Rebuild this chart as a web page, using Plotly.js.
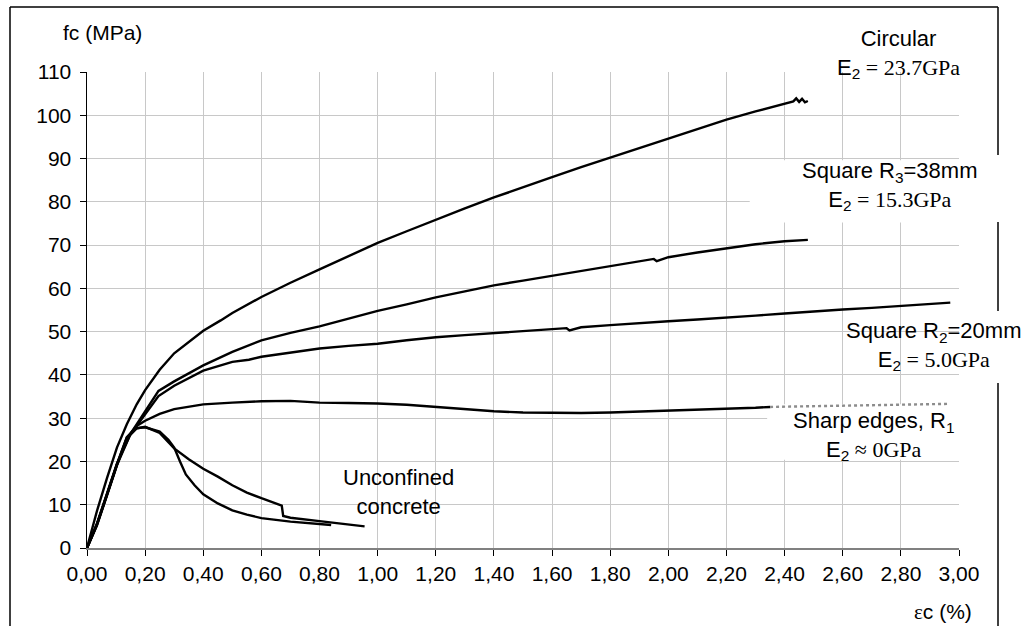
<!DOCTYPE html>
<html>
<head>
<meta charset="utf-8">
<script src="https://cdn.plot.ly/plotly-3.0.1.min.js"></script>
<style>html,body{margin:0;padding:0;background:#fff;}#chart{width:1027px;height:626px;}</style>
</head>
<body>
<div id="chart"></div>
<script>
// ---- data (strain in %, stress in MPa) ----
var circX = [0, 0.034, 0.069, 0.103, 0.137, 0.171, 0.20, 0.25, 0.30, 0.35, 0.40, 0.46, 0.50, 0.60, 0.70, 0.80, 0.90, 1.00, 1.10, 1.20, 1.30, 1.40, 1.50, 1.60, 1.70, 1.80, 1.90, 2.00, 2.10, 2.20, 2.30, 2.40, 2.43, 2.44, 2.45, 2.46, 2.47, 2.48];
var circY = [0, 8.5, 16.2, 23.2, 28.6, 33.2, 36.5, 41.2, 45.0, 47.7, 50.2, 52.6, 54.3, 58.0, 61.3, 64.4, 67.5, 70.5, 73.2, 75.9, 78.5, 81.0, 83.4, 85.7, 88.0, 90.2, 92.4, 94.5, 96.8, 99.0, 100.9, 102.6, 103.2, 103.9, 103.1, 103.8, 103.0, 103.3];

var r3X = [0, 0.034, 0.069, 0.103, 0.149, 0.20, 0.246, 0.30, 0.40, 0.50, 0.60, 0.70, 0.80, 0.90, 1.00, 1.10, 1.20, 1.30, 1.40, 1.50, 1.60, 1.70, 1.80, 1.90, 1.95, 1.96, 2.00, 2.10, 2.20, 2.30, 2.40, 2.48];
var r3Y = [0, 5.6, 12.6, 19.5, 26.3, 31.5, 36.3, 38.5, 42.2, 45.3, 48.0, 49.7, 51.2, 53.0, 54.8, 56.3, 57.9, 59.3, 60.7, 61.8, 62.9, 64.0, 65.2, 66.3, 66.8, 66.3, 67.2, 68.3, 69.3, 70.2, 70.9, 71.2];

var r2X = [0, 0.034, 0.069, 0.103, 0.149, 0.20, 0.246, 0.30, 0.40, 0.50, 0.557, 0.60, 0.70, 0.80, 0.90, 1.00, 1.10, 1.20, 1.30, 1.40, 1.50, 1.60, 1.65, 1.66, 1.70, 1.80, 1.90, 2.00, 2.10, 2.20, 2.30, 2.40, 2.50, 2.60, 2.70, 2.80, 2.90, 2.97];
var r2Y = [0, 5.3, 12.3, 19.2, 26.2, 30.8, 35.1, 37.5, 41.0, 43.0, 43.5, 44.2, 45.2, 46.1, 46.7, 47.2, 48.0, 48.7, 49.2, 49.7, 50.2, 50.7, 50.8, 50.3, 51.0, 51.5, 52.0, 52.4, 52.8, 53.2, 53.7, 54.2, 54.7, 55.1, 55.5, 55.9, 56.3, 56.7];

var sharpX = [0, 0.034, 0.069, 0.103, 0.137, 0.171, 0.20, 0.25, 0.30, 0.40, 0.50, 0.60, 0.70, 0.80, 0.90, 1.00, 1.10, 1.20, 1.30, 1.40, 1.50, 1.60, 1.70, 1.80, 1.90, 2.00, 2.10, 2.20, 2.30, 2.35];
var sharpY = [0, 5.4, 12.4, 19.3, 25.5, 28.2, 29.4, 31.0, 32.1, 33.2, 33.6, 33.9, 34.0, 33.6, 33.5, 33.4, 33.1, 32.6, 32.0, 31.6, 31.3, 31.2, 31.2, 31.3, 31.5, 31.8, 32.0, 32.2, 32.4, 32.6];
var sharpTailX = [2.35, 2.50, 2.70, 2.90, 2.96];
var sharpTailY = [32.6, 32.8, 33.0, 33.2, 33.3];

var uncAX = [0, 0.034, 0.069, 0.103, 0.137, 0.17, 0.20, 0.25, 0.30, 0.35, 0.40, 0.45, 0.50, 0.55, 0.60, 0.65, 0.67, 0.675, 0.70, 0.80, 0.90, 0.955];
var uncAY = [0, 5.2, 12.2, 19.1, 25.3, 27.6, 28.0, 26.6, 23.0, 20.5, 18.3, 16.5, 14.5, 12.8, 11.5, 10.2, 9.8, 7.4, 7.0, 6.2, 5.5, 5.0];

var uncBX = [0, 0.034, 0.069, 0.103, 0.137, 0.17, 0.20, 0.25, 0.28, 0.30, 0.32, 0.34, 0.37, 0.40, 0.45, 0.50, 0.55, 0.60, 0.70, 0.80, 0.84];
var uncBY = [0, 5.5, 12.5, 19.4, 25.6, 27.7, 27.9, 26.9, 25.0, 23.2, 20.0, 17.0, 14.5, 12.4, 10.3, 8.7, 7.7, 6.9, 6.1, 5.6, 5.3];

var xTickVals = [0, 0.2, 0.4, 0.6, 0.8, 1.0, 1.2, 1.4, 1.6, 1.8, 2.0, 2.2, 2.4, 2.6, 2.8, 3.0];
var yTickVals = [0, 10, 20, 30, 40, 50, 60, 70, 80, 90, 100, 110];

// ---- geometry helpers (pixel -> paper) ----
var L = 87, R = 959, T = 72, B = 548;
function px(x) { return (x - L) / (R - L); }
function py(y) { return (B - y) / (B - T); }

var lineStyle = {color: '#000000', width: 2.4};
function tr(x, y, st) { return {x: x, y: y, type: 'scatter', mode: 'lines', line: st || lineStyle, hoverinfo: 'skip', showlegend: false}; }

var data = [
  tr(uncAX, uncAY), tr(uncBX, uncBY),
  tr(sharpX, sharpY),
  tr(sharpTailX, sharpTailY, {color: '#8c8c8c', width: 2.4, dash: 'dot'}),
  tr(r2X, r2Y), tr(r3X, r3Y), tr(circX, circY)
];

var SANS = 'Liberation Sans, Arial, sans-serif';
function ann(x, y, text, size) {
  return {xref: 'paper', yref: 'paper', x: px(x), y: py(y), xanchor: 'center', yanchor: 'middle', align: 'center',
    text: text, showarrow: false, font: {family: SANS, size: size || 22, color: '#000'}};
}
function eLine(rest) {
  return "E<sub>2</sub><span style='font-family:Liberation Serif'> " + rest + "</span>";
}

var annotations = [
  ann(102, 32, 'fc (MPa)', 21),
  ann(943, 612, "<span style='font-family:Liberation Serif'>ε</span>c (%)", 21),
  ann(898, 54, 'Circular<br>' + eLine('= 23.7GPa')),
  ann(890, 186, 'Square R<sub>3</sub>=38mm<br>' + eLine('= 15.3GPa')),
  ann(934, 346, 'Square R<sub>2</sub>=20mm<br>' + eLine('= 5.0GPa')),
  ann(873, 436, 'Sharp edges, R<sub>1</sub><br>' + eLine('≈ 0GPa')),
  ann(398, 492, 'Unconfined<br>concrete')
];

function pline(x0, y0, x1, y1) {
  return {type: 'line', xref: 'paper', yref: 'paper', x0: px(x0), y0: py(y0), x1: px(x1), y1: py(y1),
    line: {color: '#000', width: 1.5}, layer: 'below'};
}
var shapes = [
  pline(10, 7, 998, 7),
  pline(10, 7, 10, 630),
  pline(998, 7, 998, 155),
  pline(998, 222, 998, 311),
  pline(998, 383, 998, 630),
  {type: 'rect', xref: 'x', yref: 'y', x0: 2.28, x1: 3.05, y0: 75.2, y1: 89.6, fillcolor: '#fff', line: {width: 0}, layer: 'between'},
  {type: 'rect', xref: 'x', yref: 'y', x0: 2.34, x1: 3.05, y0: 20.4, y1: 33.2, fillcolor: '#fff', line: {width: 0}, layer: 'between'}
];

var layout = {
  width: 1027, height: 626,
  margin: {l: L, r: 1027 - R, t: T, b: 626 - B, pad: 0},
  paper_bgcolor: '#ffffff', plot_bgcolor: '#ffffff',
  separators: ',.',
  showlegend: false,
  xaxis: {range: [0, 3], tickvals: xTickVals, tickformat: '.2f', showgrid: true, gridcolor: '#c8c8c8', gridwidth: 1,
    zeroline: false, showline: true, linecolor: '#808080', linewidth: 2, ticks: 'outside', ticklen: 6, tickcolor: '#000', tickwidth: 1,
    tickfont: {family: SANS, size: 21, color: '#000'}, ticklabelstandoff: 0, fixedrange: true},
  yaxis: {range: [0, 110], tickvals: yTickVals, showgrid: true, gridcolor: '#c8c8c8', gridwidth: 1,
    zeroline: false, showline: true, linecolor: '#000', linewidth: 1.5, ticks: 'outside', ticklen: 6, tickcolor: '#000', tickwidth: 1,
    tickfont: {family: SANS, size: 21, color: '#000'}, ticklabelstandoff: 4, fixedrange: true},
  annotations: annotations,
  shapes: shapes
};

Plotly.newPlot('chart', data, layout, {staticPlot: true, displayModeBar: false});
</script>
</body>
</html>
